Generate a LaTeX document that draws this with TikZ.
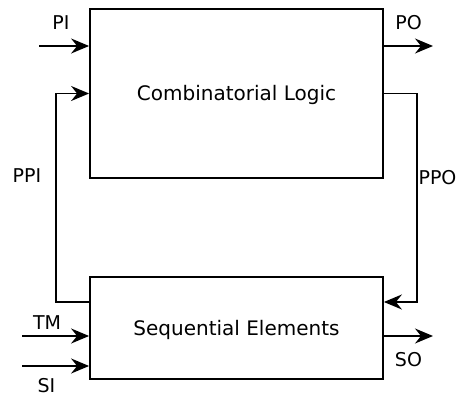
\documentclass[tikz,border=0pt]{standalone}
\usepackage{fontspec}
\setmainfont{DejaVu Sans}
\usetikzlibrary{arrows.meta,positioning,calc}
\tikzset{
    block/.style={rectangle, draw, line width=1.8pt, minimum width=293pt, inner sep=0pt, align=center, text height=14.5pt, text depth=0pt, font=\fontsize{20}{24}\selectfont},
    signal/.style={line width=1.8pt, -{Stealth[length=18pt, width=15pt, inset=6pt]}},
    tag/.style={inner sep=0pt, font=\fontsize{19}{23}\selectfont}
}

\begin{document}
\begin{tikzpicture}[x=1pt, y=-1pt]
    \useasboundingbox (0,0) rectangle (461,398);
    % Blocks
    \node[block, minimum height=169pt] (comb) at (236.5,93.5) {Combinatorial Logic};
    \node[block, minimum height=102pt] (seq) at (236.5,328) {Sequential Elements};
    % Wire ends
    \coordinate (pi) at (39,46);
    \coordinate (po) at (433,46);
    \coordinate (ppi) at (56,302);
    \coordinate (ppo) at (417,302);
    \coordinate (tm) at (22,336);
    \coordinate (si) at (22,366);
    \coordinate (so) at (433,336);
    % Primary in/out
    \draw[signal] (pi) -- (pi -| comb.west);
    \draw[signal] (po -| comb.east) -- (po);
    % Feedback loops
    \draw[signal] (ppi -| seq.west) -- (ppi) |- (comb.west);
    \draw[signal] (comb.east) -| (ppo) -- (ppo -| seq.east);
    % Scan ports
    \draw[signal] (tm) -- (tm -| seq.west);
    \draw[signal] (si) -- (si -| seq.west);
    \draw[signal] (so -| seq.east) -- (so);
    % Labels
    \node[tag] (lpi) at (61,22.5) {PI};
    \node[tag] (lpo) at (408.5,22.5) {PO};
    \node[tag] (lppi) at (27,175.5) {PPI};
    \node[tag] (lppo) at (437.5,177.5) {PPO};
    \node[tag] (ltm) at (47,323) {TM};
    \node[tag] (lsi) at (46.5,386) {SI};
    \node[tag] (lso) at (408.5,360) {SO};
\end{tikzpicture}
\end{document}
